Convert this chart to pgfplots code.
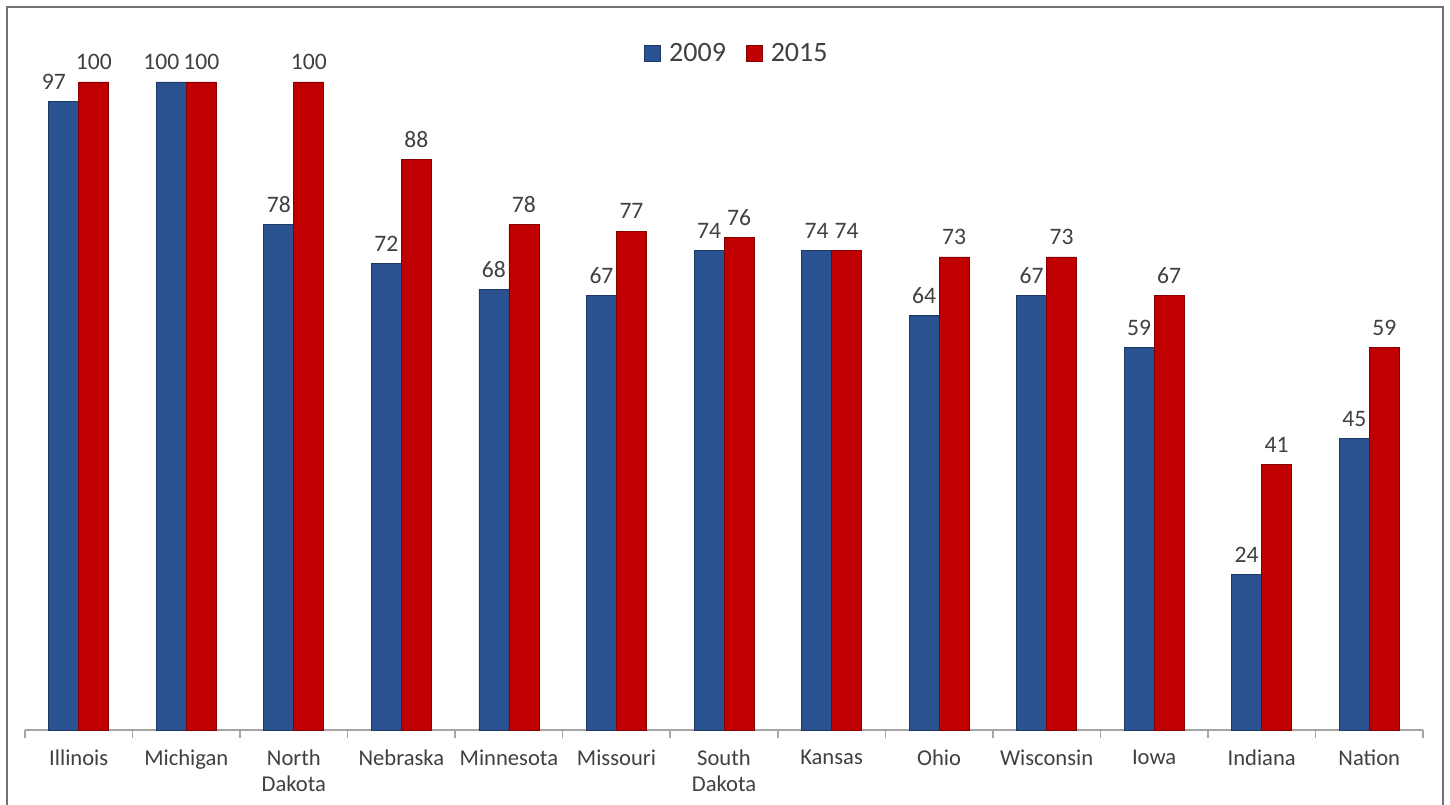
\documentclass[border=0pt]{standalone}
\usepackage{pgfplots}
\pgfplotsset{compat=1.18}
\usepackage{fontspec}
\setmainfont{Carlito}
\definecolor{sblue}{HTML}{2A5290}
\definecolor{sred}{HTML}{C00000}
\definecolor{txt}{HTML}{404040}
\begin{document}
\begin{tikzpicture}
\useasboundingbox (-12.5pt,-37pt) rectangle (712.5pt,365pt);
\draw[gray!90!black,line width=1pt] (-9pt,-40pt) -- (-9pt,361.5pt) -- (709pt,361.5pt) -- (709pt,-40pt);
\begin{axis}[
  at={(0,0)}, anchor=south west,
  scale only axis, width=699pt, height=356.4pt,
  ymin=0, ymax=110, xmin=-0.5, xmax=12.5,
  axis y line=none, axis x line*=bottom,
  x axis line style={gray!70, line width=0.8pt, -},
  ybar=0pt, bar width=15pt,
  xtick=data, major tick length=0pt,
  minor xtick={-0.5,0.5,...,12.5}, minor tick length=4pt,
  tick align=outside,
  minor tick style={gray!70, line width=0.8pt},
  xticklabels={Illinois,Michigan,North\\Dakota,Nebraska,Minnesota,Missouri,South\\Dakota,Kansas,Ohio,Wisconsin,Iowa,Indiana,Nation},
  xticklabel style={align=center, text=txt, font=\fontsize{11.3pt}{13pt}\selectfont, yshift=-6.5pt},
  nodes near coords,
  point meta=explicit symbolic,
  every node near coord/.append style={text=txt, font=\fontsize{11.8pt}{13pt}\selectfont, yshift=2.5pt},
  legend style={at={(0.51,0.949)}, anchor=center, draw=none, legend columns=2, font=\fontsize{14pt}{16pt}\selectfont, text=txt, /tikz/every even column/.append style={column sep=8pt}},
  legend image code/.code={\draw[#1] (0pt,-4pt) rectangle (8pt,4pt); \path (10pt,0pt);},
  clip=false,
]
\addplot[fill=sblue, draw=sblue!70!black, line width=0.4pt] coordinates {(0,97) [97\kern10pt] (1,100) [100\kern10pt] (2,78) [78] (3,72) [72] (4,68) [68] (5,67) [67] (6,74) [74] (7,74) [74] (8,64) [64] (9,67) [67] (10,59) [59] (11,24) [24] (12,45) [45]};
\addplot[fill=sred, draw=sred!70!black, line width=0.4pt] coordinates {(0,100) [100] (1,100) [100] (2,100) [100] (3,88) [88] (4,78) [78] (5,77) [77] (6,76) [76] (7,74) [74] (8,73) [73] (9,73) [73] (10,67) [67] (11,41) [41] (12,59) [59]};
\legend{2009,2015}
\end{axis}
\end{tikzpicture}
\end{document}
